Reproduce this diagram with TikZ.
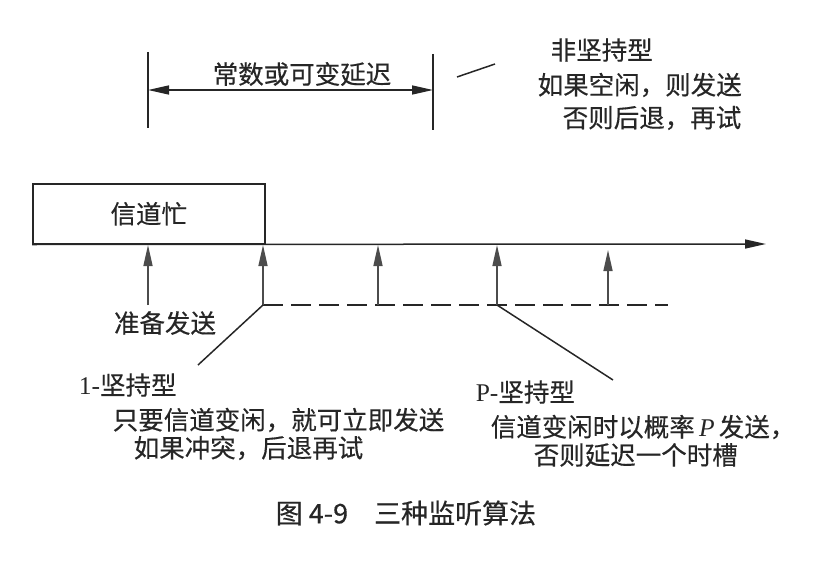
\documentclass[tikz,border=0pt]{standalone}
\usepackage{fontspec}
\setmainfont{Liberation Serif}
\newfontfamily\cjk[FakeBold=0.4]{Noto Sans CJK SC}
\usetikzlibrary{arrows.meta}
\begin{document}
\begin{tikzpicture}[x=1pt,y=-1pt,line width=1.5pt,color={black!85},
  arr/.style={-{Triangle[length=21pt,width=9pt]}},
  darr/.style={{Triangle[length=21pt,width=9pt]}-{Triangle[length=21pt,width=9pt]}},
  uparr/.style={-{Triangle[length=21pt,width=9pt]},draw=black!70},
  txt/.style={font=\cjk\fontsize{25.5}{30}\selectfont,inner sep=0pt,anchor=west,text=black!85},
  captxt/.style={font=\cjk\fontsize{27}{32}\selectfont,inner sep=0pt,anchor=west,text=black!85},
  dashline/.style={dash pattern=on 20pt off 8pt}]
\useasboundingbox (0,0) rectangle (818,586);
% constant or variable delay
\coordinate (bl1) at (148,52);
\coordinate (bl2) at (148,128);
\coordinate (br1) at (433,54);
\coordinate (br2) at (433,130);
\draw (bl1) -- (bl2);
\draw (br1) -- (br2);
\coordinate (dl) at (148,90);
\coordinate (dr) at (433,90);
\draw[darr] (dl) -- (dr);
\node[txt] (delay) at (212,74) {常数或可变延迟};
% non-persistent
\coordinate (s1) at (457,77);
\coordinate (s2) at (495,64);
\draw (s1) -- (s2);
\node[txt] (np1) at (550,50) {非坚持型};
\node[txt] (np2) at (537,85) {如果空闲，则发送};
\node[txt] (np3) at (562,118) {否则后退，再试};
% busy box
\node[draw,minimum width=232pt,minimum height=60pt,txt,anchor=north west] (busy) at (32,183) {信道忙};
\coordinate (tend) at (766,244);
\draw[arr] (busy.south west) -- (tend);
% ready to send arrow
\node[txt,anchor=center] (ready) at (165,323) {准备发送};
\coordinate (r0) at (148,305);
\coordinate (r1) at (148,245);
\draw[uparr] (r0) -- (r1);
% dashed line and arrows
\coordinate (d0) at (263,305);
\coordinate (d1) at (378,305);
\coordinate (d2) at (497,305);
\coordinate (d3) at (608,305);
\coordinate (dend) at (668,305);
\draw[dashline] (d0) -- (dend);
\coordinate (t0) at (263,245);
\coordinate (t1) at (378,245);
\coordinate (t2) at (497,245);
\coordinate (t3) at (608,250);
\draw[uparr] (d0) -- (t0);
\draw[uparr] (d1) -- (t1);
\draw[uparr] (d2) -- (t2);
\draw[uparr] (d3) -- (t3);
% 1-persistent
\coordinate (p1e) at (198,365);
\draw (d0) -- (p1e);
\node[txt] (op1) at (78,385) {{\rmfamily 1-}坚持型};
\node[txt] (op2) at (112,420) {只要信道变闲，就可立即发送};
\node[txt] (op3) at (133,448) {如果冲突，后退再试};
% p-persistent
\coordinate (ppe) at (613,380);
\draw (d2) -- (ppe);
\node[txt] (pp1) at (475,392) {{\rmfamily P-}坚持型};
\node[txt] (pp2) at (490,427) {信道变闲时以概率{\rmfamily\itshape\,P\,}发送，};
\node[txt] (pp3) at (533,455) {否则延迟一个时槽};
% caption
\node[captxt] (cap) at (275,513) {图 4-9\hspace{26pt}三种监听算法};
\end{tikzpicture}
\end{document}
